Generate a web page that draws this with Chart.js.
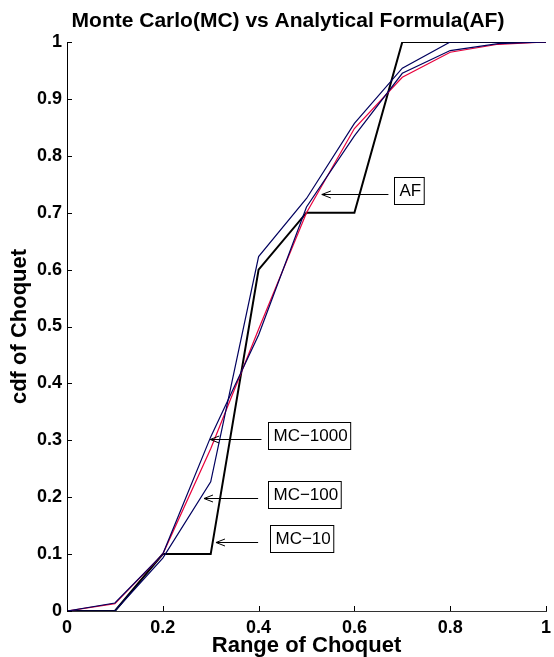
<!DOCTYPE html>
<html>
<head>
<meta charset="utf-8">
<script src="https://cdn.jsdelivr.net/npm/chart.js"></script>
<style>
  html, body { margin: 0; padding: 0; background: #fff; }
  #wrap { width: 554px; height: 657px; }
</style>
</head>
<body>
<div id="wrap"><canvas id="chartCdf" width="554" height="657"></canvas></div>
<script>
// x grid (range of Choquet) and cdf values
const xs = [0, 0.1, 0.2, 0.3, 0.4, 0.5, 0.6, 0.7, 0.8, 0.9, 1];
const mc10 = [0, 0, 0.1, 0.1, 0.6, 0.7, 0.7, 1, 1, 1, 1];
const mc100 = [0, 0, 0.093, 0.227, 0.623, 0.725, 0.857, 0.954, 1, 1, 1];
const mc1000 = [0, 0.014, 0.1, 0.306, 0.485, 0.71, 0.835, 0.945, 0.985, 0.997, 1];
const af = [0, 0.013, 0.1, 0.285, 0.495, 0.7, 0.848, 0.938, 0.982, 0.996, 1];

const yTicks = [0, 0.1, 0.2, 0.3, 0.4, 0.5, 0.6, 0.7, 0.8, 0.9, 1];
const xTicks = [0, 0.2, 0.4, 0.6, 0.8, 1];

// text boxes: label, arrow tip / tail x, arrow y and box left, in data units
const notes = [
  { text: "AF", tipX: 0.532, tailX: 0.671, y: 0.732, boxX: 0.683 },
  { text: "MC\u22121000", tipX: 0.299, tailX: 0.406, y: 0.302, boxX: 0.420 },
  { text: "MC\u2212100", tipX: 0.286, tailX: 0.399, y: 0.198, boxX: 0.420 },
  { text: "MC\u221210", tipX: 0.311, tailX: 0.399, y: 0.121, boxX: 0.424 }
];

const pts = arr => xs.map((x, i) => ({ x: x, y: arr[i] }));
const FONT = "'Liberation Sans', Arial, Helvetica, sans-serif";

// inward ticks, title and arrow boxes
const extras = {
  id: "extras",
  afterDraw(chart) {
    const ctx = chart.ctx;
    const sx = chart.scales.x, sy = chart.scales.y;
    const area = chart.chartArea;
    ctx.save();
    ctx.strokeStyle = "#000";
    ctx.lineWidth = 1;
    ctx.beginPath();
    yTicks.forEach(v => {
      const p = Math.round(sy.getPixelForValue(v)) + 0.5;
      ctx.moveTo(area.left, p);
      ctx.lineTo(area.left + 5, p);
    });
    xTicks.forEach(v => {
      const p = Math.round(sx.getPixelForValue(v)) + 0.5;
      ctx.moveTo(p, area.bottom);
      ctx.lineTo(p, area.bottom - 5);
    });
    ctx.stroke();

    // title
    ctx.fillStyle = "#000";
    ctx.font = "bold 21px " + FONT;
    ctx.textAlign = "center";
    ctx.textBaseline = "alphabetic";
    ctx.fillText("Monte Carlo(MC) vs Analytical Formula(AF)", 288, 27);

    // annotation boxes with arrows
    ctx.font = "17px " + FONT;
    ctx.textAlign = "left";
    ctx.textBaseline = "middle";
    notes.forEach(n => {
      const tip = sx.getPixelForValue(n.tipX);
      const tail = sx.getPixelForValue(n.tailX);
      const yy = Math.round(sy.getPixelForValue(n.y)) + 0.5;
      ctx.beginPath();
      ctx.moveTo(tail, yy);
      ctx.lineTo(tip, yy);
      ctx.moveTo(tip + 9, yy - 3.5);
      ctx.lineTo(tip, yy);
      ctx.lineTo(tip + 9, yy + 3.5);
      ctx.stroke();
      const w = ctx.measureText(n.text).width + 8;
      const bx = Math.round(sx.getPixelForValue(n.boxX)) + 0.5;
      const by = Math.round(yy - 5 - 13) + 0.5;
      ctx.fillStyle = "#fff";
      ctx.fillRect(bx, by, w, 27);
      ctx.strokeRect(bx, by, w, 27);
      ctx.fillStyle = "#000";
      ctx.fillText(n.text, bx + 5, by + 14);
    });
    ctx.restore();
  }
};

new Chart(document.getElementById("chartCdf"), {
  type: "line",
  data: {
    datasets: [
      { label: "MC-1000", data: pts(mc1000), borderColor: "#00005e", borderWidth: 1.2 },
      { label: "MC-100", data: pts(mc100), borderColor: "#00005e", borderWidth: 1.2 },
      { label: "AF", data: pts(af), borderColor: "#e8003c", borderWidth: 1.2 },
      { label: "MC-10", data: pts(mc10), borderColor: "#000", borderWidth: 2 }
    ]
  },
  options: {
    responsive: false,
    animation: false,
    events: [],
    elements: { point: { radius: 0 }, line: { tension: 0, fill: false } },
    layout: { padding: { top: 42, right: 8, left: 0, bottom: 0 } },
    plugins: { legend: { display: false }, tooltip: { enabled: false } },
    scales: {
      x: {
        type: "linear",
        min: 0,
        max: 1,
        afterFit: s => { s.height = 46; s.paddingLeft = 0; s.paddingRight = 0; },
        afterBuildTicks: s => { s.ticks = xTicks.map(v => ({ value: v })); },
        grid: { display: false, drawTicks: false },
        border: { display: true, color: "#333", width: 1 },
        ticks: {
          padding: 6,
          color: "#000",
          font: { family: FONT, size: 18, weight: "bold" },
          callback: v => String(+v.toFixed(1))
        },
        title: {
          display: true,
          text: "Range of Choquet",
          color: "#000",
          font: { family: FONT, size: 22, weight: "bold", lineHeight: 1 },
          padding: { top: 0, bottom: 0 }
        }
      },
      y: {
        type: "linear",
        min: 0,
        max: 1,
        afterFit: s => { s.width = 67; s.paddingTop = 0; s.paddingBottom = 0; },
        afterBuildTicks: s => { s.ticks = yTicks.map(v => ({ value: v })); },
        grid: { display: false, drawTicks: false },
        border: { display: true, color: "#000", width: 1 },
        ticks: {
          padding: 5,
          color: "#000",
          font: { family: FONT, size: 18, weight: "bold" },
          callback: v => String(+v.toFixed(1))
        },
        title: {
          display: true,
          text: "cdf of Choquet",
          color: "#000",
          font: { family: FONT, size: 22, weight: "bold", lineHeight: 1 },
          padding: { top: 9, bottom: 0 }
        }
      }
    }
  },
  plugins: [extras]
});
</script>
</body>
</html>
